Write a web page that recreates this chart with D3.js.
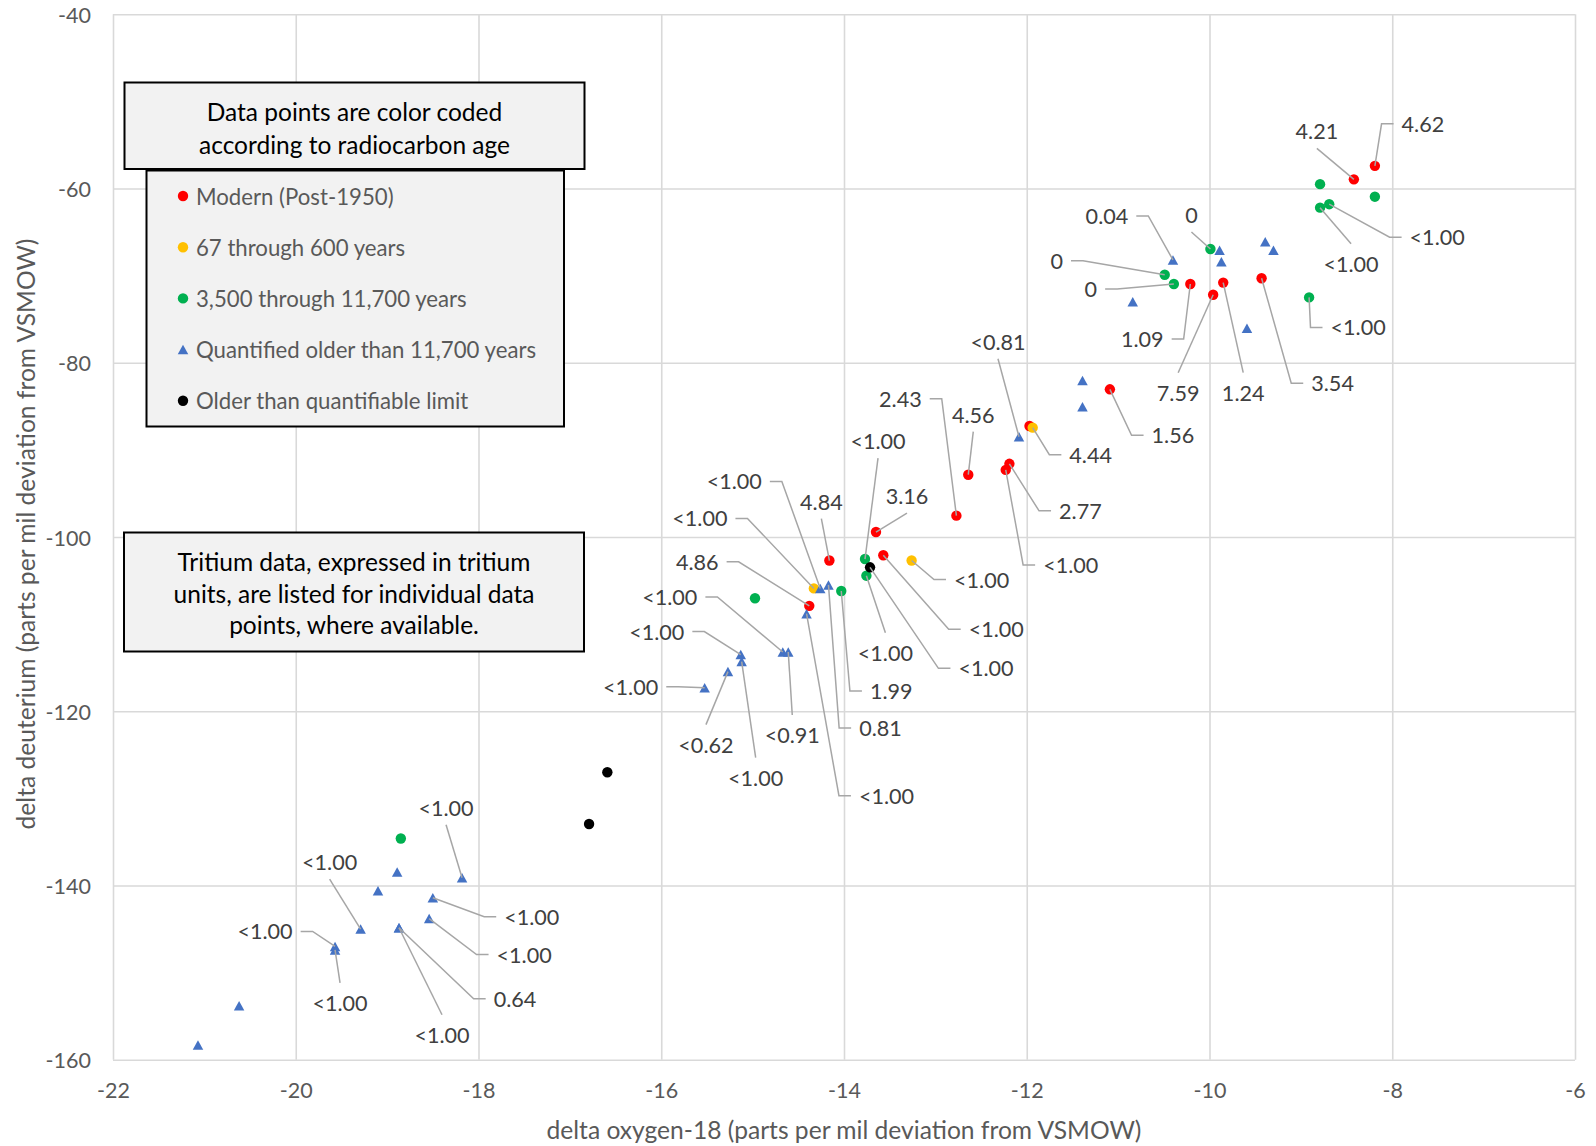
<!DOCTYPE html>
<html><head><meta charset="utf-8">
<script src="https://cdn.jsdelivr.net/npm/d3@7"></script>
<style>body{margin:0;background:#fff}svg{display:block}text{font-family:Lato,"Open Sans",sans-serif}</style>
</head><body><svg id="c" width="1596" height="1146"></svg>
<script>
// ---------- DATA ----------
const xTicks = [-22, -20, -18, -16, -14, -12, -10, -8, -6];
const yTicks = [-160, -140, -120, -100, -80, -60, -40];
const xTitle = "delta oxygen-18 (parts per mil deviation from VSMOW)";
const yTitle = "delta deuterium (parts per mil deviation from VSMOW)";
const seriesNames = ["Modern (Post-1950)", "67 through 600 years", "3,500 through 11,700 years", "Quantified older than 11,700 years", "Older than quantifiable limit"];
const legendTitle = ["Data points are color coded", "according to radiocarbon age"];
const noteText = ["Tritium data, expressed in tritium", "units, are listed for individual data", "points, where available."];

// Modern (red)
const modernO18 = [-8.19, -8.42, -10.21, -9.96, -9.85, -9.43, -11.09, -11.97, -12.19, -12.23, -12.64, -12.77, -13.65, -13.57, -14.16, -14.38];
const modernD   = [-57.4, -58.95, -70.96, -72.2, -70.8, -70.3, -83.05, -87.26, -91.6, -92.3, -92.85, -97.55, -99.43, -102.1, -102.7, -107.9];
const modernTU  = ["4.62", "4.21", "1.09", "7.59", "1.24", "3.54", "1.56", null, "2.77", "<1.00", "4.56", "2.43", "3.16", "<1.00", "4.84", "4.86"];
// 67-600 years (yellow)
const youngO18 = [-11.935, -13.26, -14.33];
const youngD   = [-87.45, -102.7, -105.9];
const youngTU  = ["4.44", "<1.00", "<1.00"];
// 3,500-11,700 years (green)
const midO18 = [-8.79, -8.19, -8.69, -8.79, -9.99, -10.49, -10.39, -8.91, -13.77, -13.755, -14.03, -14.974, -18.85];
const midD   = [-59.5, -60.94, -61.8, -62.2, -66.94, -69.9, -70.96, -72.5, -102.53, -104.44, -106.2, -107.03, -134.6];
const midTU  = [null, null, "<1.00", "<1.00", "0", "0", "0", "<1.00", "<1.00", "<1.00", "1.99", null, null];
// Quantified older than 11,700 years (blue)
const oldO18 = [-9.89, -9.87, -10.40, -9.39, -9.30, -10.84, -9.59, -11.39, -11.39, -12.085, -14.26, -14.17, -14.41, -14.67, -14.61, -15.13, -15.12, -15.27, -15.525, -18.89, -18.18, -19.10, -18.50, -18.54, -19.29, -18.87, -18.87, -19.57, -19.57, -20.62, -21.07];
const oldD   = [-67.1, -68.4, -68.2, -66.1, -67.1, -73.0, -76.05, -82.05, -85.04, -88.5, -105.9, -105.5, -108.8, -113.2, -113.2, -113.5, -114.3, -115.45, -117.3, -138.45, -139.1, -140.6, -141.4, -143.8, -145.0, -144.85, -144.85, -147.0, -147.4, -153.8, -158.3];
const oldTU  = [null, null, "0.04", null, null, null, null, null, null, "<0.81", "<1.00", "0.81", "<1.00", "<1.00", "<0.91", "<1.00", "<1.00", "<0.62", "<1.00", null, "<1.00", null, "<1.00", "<1.00", "<1.00", "0.64", "<1.00", "<1.00", "<1.00", null, null];
// Older than quantifiable limit (black)
const deadO18 = [-13.715, -16.59, -16.79];
const deadD   = [-103.48, -127.0, -132.94];
const deadTU  = ["<1.00", null, null];

// ---------- LABEL LAYOUT (pixel offsets of label centre from point, leader side) ----------
const modernLab = [[48,-42,'L'],[-37,-48,'B'],[-48,55,'R'],[-35,98,'T'],[20,110,'T'],[71,105,'L'],[63,46,'L'],null,[71,47,'L'],[65,95,'L'],[5,-60,'B'],[-56,-117,'R'],[31,-36,'B'],[113,74,'L'],[-8,-59,'B'],[-112,-44,'R']];
const youngLab  = [[58,27,'L'],[70,19,'L'],[-114,-70,'R']];
const midLab    = [null,null,[108,33,'L'],[31,56,'T'],[-19,-34,'B'],[-108,-14,'R'],[-83,5,'R'],[49,30,'L'],[13,-118,'B'],[19,77,'T'],[50,100,'L'],null,null];
const oldLab    = [null,null,[-66,-44,'R'],null,null,null,null,null,null,[-21,-95,'B'],[-86,-107,'R'],[52,143,'L'],[80,182,'L'],[-113,-55,'R'],[4,83,'T'],[-84,-23,'R'],[14,116,'T'],[-22,73,'T'],[-74,-1,'R'],null,[-16,-70,'B'],null,[99,19,'L'],[95,36,'L'],[-31,-67,'B'],[116,71,'L'],[43,107,'T'],[-70,-15,'R'],[5,53,'T'],null,null];
const deadLab   = [[116,101,'L'],null,null];

// ---------- STYLE ----------
const colors = ["#ff0000", "#ffc000", "#00b050", "#4472c4", "#000000"];
const shapes = ["circle", "circle", "circle", "triangle", "circle"];

const series = [
  {name: seriesNames[0], xs: modernO18, ys: modernD, tu: modernTU, lab: modernLab},
  {name: seriesNames[1], xs: youngO18, ys: youngD, tu: youngTU, lab: youngLab},
  {name: seriesNames[2], xs: midO18, ys: midD, tu: midTU, lab: midLab},
  {name: seriesNames[3], xs: oldO18, ys: oldD, tu: oldTU, lab: oldLab},
  {name: seriesNames[4], xs: deadO18, ys: deadD, tu: deadTU, lab: deadLab}
];

const plot = {left: 113, right: 1575, top: 14.25, bottom: 1059.75};
const x = d3.scaleLinear().domain([-22, -6]).range([plot.left, plot.right]);
const y = d3.scaleLinear().domain([-160, -40]).range([plot.bottom, plot.top]);
const svg = d3.select("#c");
const gridColor = "#d9d9d9", tickColor = "#595959", labelColor = "#404040", leaderColor = "#a6a6a6";
const FS = 21.6, TFS = 21.5, BOXFS = 24.5, LEGFS = 22.2, AXFS = 24.6;
const fmt = d => String(d);

// axes + grid
const gx = svg.append("g").attr("transform", `translate(0,${plot.bottom})`)
  .call(d3.axisBottom(x).tickValues(xTicks).tickSize(-(plot.bottom - plot.top)).tickFormat(fmt));
const gy = svg.append("g").attr("transform", `translate(${plot.left},0)`)
  .call(d3.axisLeft(y).tickValues(yTicks).tickSize(-(plot.right - plot.left)).tickFormat(fmt));
[gx, gy].forEach(g => {
  g.select(".domain").remove();
  g.selectAll(".tick line").attr("stroke", gridColor).attr("stroke-width", 1.6);
  g.selectAll(".tick text").attr("fill", tickColor).attr("font-size", TFS + "px").attr("font-family", "Lato");
});
gx.selectAll(".tick text").attr("dy", null).attr("y", 30).attr("dominant-baseline", "central");
gy.selectAll(".tick text").attr("dy", null).attr("x", -22).attr("dominant-baseline", "central");

// axis titles
svg.append("text").attr("x", 844).attr("y", 1129).attr("text-anchor", "middle").attr("dominant-baseline", "central")
  .attr("font-size", AXFS + "px").attr("fill", tickColor).text(xTitle);
svg.append("text").attr("transform", "translate(25,534) rotate(-90)").attr("text-anchor", "middle").attr("dominant-baseline", "central")
  .attr("font-size", AXFS + "px").attr("fill", tickColor).text(yTitle);

function markerPath(shape) {
  if (shape === "triangle") {
    const w = 10.5, h = 9.5;
    return `M0,${-h / 2}L${w / 2},${h / 2}L${-w / 2},${h / 2}Z`;
  }
  return d3.symbol().type(d3.symbolCircle).size(Math.PI * 5.2 * 5.2)();
}

// legend boxes
const lg = svg.append("g");
lg.append("rect").attr("x", 124.5).attr("y", 82.5).attr("width", 460).attr("height", 86.5)
  .attr("fill", "#f2f2f2").attr("stroke", "#000").attr("stroke-width", 2);
legendTitle.forEach((t, i) => lg.append("text").attr("x", 354.5).attr("y", 111.5 + i * 32.5).attr("text-anchor", "middle")
  .attr("dominant-baseline", "central").attr("font-size", BOXFS + "px").attr("fill", "#000").text(t));
lg.append("rect").attr("x", 146.5).attr("y", 170.5).attr("width", 417.5).attr("height", 256)
  .attr("fill", "#f2f2f2").attr("stroke", "#000").attr("stroke-width", 2);
seriesNames.forEach((n, i) => {
  const yy = 196 + i * 51.2;
  lg.append("path").attr("d", markerPath(shapes[i])).attr("transform", `translate(183,${yy})`).attr("fill", colors[i]);
  lg.append("text").attr("x", 196).attr("y", yy).attr("dominant-baseline", "central")
    .attr("font-size", LEGFS + "px").attr("fill", tickColor).text(n);
});

// note box
const nb = svg.append("g");
nb.append("rect").attr("x", 124).attr("y", 532.5).attr("width", 460).attr("height", 119)
  .attr("fill", "#f2f2f2").attr("stroke", "#000").attr("stroke-width", 2);
noteText.forEach((t, i) => nb.append("text").attr("x", 354).attr("y", 561.5 + i * 31.7).attr("text-anchor", "middle")
  .attr("dominant-baseline", "central").attr("font-size", BOXFS + "px").attr("fill", "#000").text(t));

// markers
const mg = svg.append("g");
series.forEach((s, si) => {
  mg.selectAll(null).data(s.xs.map((v, i) => ({x: v, y: s.ys[i]}))).join("path")
    .attr("d", markerPath(shapes[si])).attr("fill", colors[si])
    .attr("transform", d => `translate(${x(d.x)},${y(d.y)})`);
});

// labels + leader lines
const lblG = svg.append("g"), ldG = svg.append("g");
series.forEach((s) => {
  s.xs.forEach((v, i) => {
    const t = s.tu[i], L = s.lab[i];
    if (t == null || !L) return;
    const px = x(v), py = y(s.ys[i]);
    const cx = px + L[0], cy = py + L[1];
    const txt = lblG.append("text").attr("x", cx).attr("y", cy).attr("text-anchor", "middle")
      .attr("dominant-baseline", "central").attr("font-size", FS + "px").attr("fill", labelColor).text(t);
    const w = txt.node().getComputedTextLength();
    let pts;
    if (L[2] === "L") {
      const e = cx - w / 2 - 8;
      pts = [[px, py], [e - 12, cy], [e, cy]];
    } else if (L[2] === "R") {
      const e = cx + w / 2 + 8;
      pts = [[px, py], [e + 12, cy], [e, cy]];
    } else if (L[2] === "T") {
      pts = [[px, py], [cx, cy - 20]];
    } else {
      pts = [[px, py], [cx, cy + 17]];
    }
    ldG.append("path").attr("d", d3.line()(pts)).attr("fill", "none").attr("stroke", leaderColor).attr("stroke-width", 1.5);
  });
});
</script></body></html>
